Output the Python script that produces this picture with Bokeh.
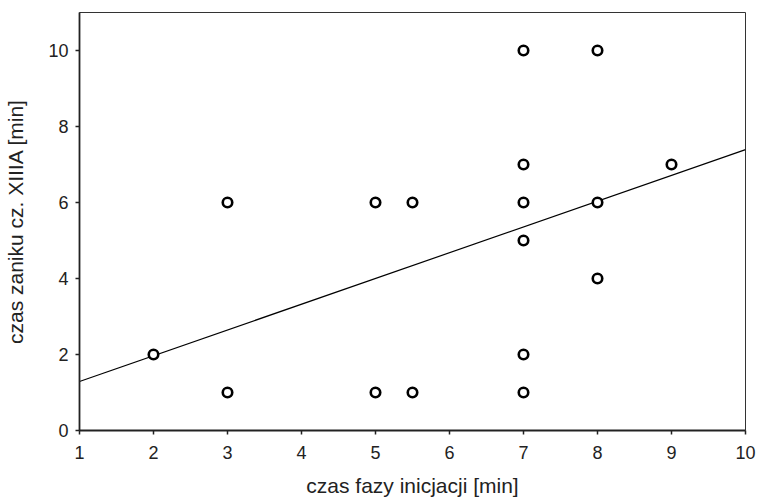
from bokeh.plotting import figure
from bokeh.embed import file_html
from bokeh.resources import INLINE
from bokeh.models import FixedTicker, Range1d

# data
x_vals = [2, 3, 3, 5, 5, 5.5, 5.5, 7, 7, 7, 7, 7, 7, 8, 8, 8, 9]
y_vals = [2, 6, 1, 6, 1, 6, 1, 10, 7, 6, 5, 2, 1, 10, 6, 4, 7]
fit_x = [1, 10]
fit_y = [1.29, 7.39]
x_ticks = [1, 2, 3, 4, 5, 6, 7, 8, 9, 10]
y_ticks = [0, 2, 4, 6, 8, 10]

FONT = "Liberation Sans"

p = figure(width=756, height=503, output_backend="svg", toolbar_location=None,
           x_range=Range1d(1, 10), y_range=Range1d(0, 11),
           min_border_left=79, min_border_right=11, min_border_top=12, min_border_bottom=73)
p.xgrid.visible = False
p.ygrid.visible = False
p.outline_line_color = "#333333"
p.outline_line_width = 1
p.background_fill_color = "white"
p.border_fill_color = "white"

p.line(fit_x, fit_y, line_color="black", line_width=1.2)
p.scatter(x_vals, y_vals, marker="circle", size=9.5, fill_color="white",
          line_color="black", line_width=2.6)

for ax in (p.xaxis[0], p.yaxis[0]):
    ax.major_label_text_font = FONT
    ax.major_label_text_font_size = "18px"
    ax.major_label_text_color = "#222222"
    ax.axis_label_text_font = FONT
    ax.axis_label_text_font_size = "21px"
    ax.axis_label_text_font_style = "normal"
    ax.axis_label_text_color = "#222222"
    ax.axis_line_color = "#222222"
    ax.axis_line_width = 1.8
    ax.major_tick_line_color = "#222222"
    ax.major_tick_line_width = 1.5
    ax.major_tick_in = 0
    ax.major_tick_out = 4
    ax.minor_tick_line_color = None

p.xaxis[0].ticker = FixedTicker(ticks=x_ticks)
p.yaxis[0].ticker = FixedTicker(ticks=y_ticks)
p.xaxis[0].axis_label = "czas fazy inicjacji [min]"
p.yaxis[0].axis_label = "czas zaniku cz. XIIIA [min]"
p.xaxis[0].major_label_standoff = 11
p.xaxis[0].axis_label_standoff = 12
p.yaxis[0].major_label_standoff = 7
p.yaxis[0].axis_label_standoff = 18

open("out.html", "w").write(file_html(p, INLINE))
